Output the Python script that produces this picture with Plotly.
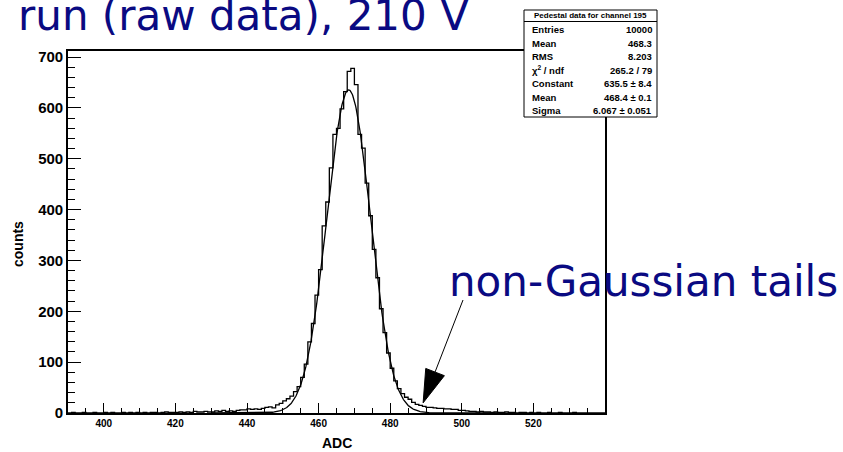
import numpy as np
import plotly.graph_objects as go

# ADC pedestal histogram, channel 195: 1-count-wide bins from 390 to 540
bin_lo = 390
bin_hi = 540
counts = [
    # 390-399
    0, 1, 0, 0, 1, 0, 0, 1, 0, 0,
    # 400-409
    1, 0, 1, 0, 0, 1, 0, 1, 0, 1,
    # 410-419
    0, 1, 0, 1, 1, 0, 1, 2, 1, 1,
    # 420-429
    1, 2, 1, 2, 1, 3, 2, 2, 3, 2,
    # 430-439
    2, 4, 3, 5, 3, 4, 3, 5, 6, 6,
    # 440-449
    8, 7, 8, 7, 9, 11, 12, 10, 16, 19,
    # 450-459
    24, 28, 33, 42, 52, 70, 96, 140, 176, 232,
    # 460-469
    282, 368, 415, 482, 548, 560, 598, 632, 672, 678,
    # 470-479
    646, 548, 521, 452, 388, 322, 266, 205, 158, 118,
    # 480-489
    88, 63, 48, 38, 31, 27, 21, 17, 15, 13,
    # 490-499
    11, 11, 10, 9, 9, 8, 8, 7, 7, 5,
    # 500-509
    5, 4, 3, 3, 2, 3, 2, 2, 1, 2,
    # 510-519
    1, 1, 2, 1, 1, 0, 1, 1, 0, 1,
    # 520-529
    0, 1, 0, 0, 1, 0, 0, 1, 0, 0,
    # 530-539
    0, 1, 0, 0, 0, 0, 0, 0, 0, 0,
]

# Gaussian fit parameters
fit_constant = 635.5
fit_mean = 468.4
fit_sigma = 6.067

stats_title = "Pedestal data for channel 195"
stats_labels = ["Entries", "Mean", "RMS", "\u03c7<sup>2</sup> / ndf", "Constant", "Mean", "Sigma"]
stats_values = ["10000", "468.3", "8.203", "265.2 / 79", "635.5 \u00b1 8.4", "468.4 \u00b1 0.1", "6.067 \u00b1 0.051"]

x_ticks = [400, 420, 440, 460, 480, 500, 520]
y_ticks = [0, 100, 200, 300, 400, 500, 600, 700]
y_top = 712

# ---------------------------------------------------------------- geometry
FIG_W, FIG_H = 843, 452
L, R, T, B = 68, 605, 51, 413
W, H = R - L, B - T


def paper_x(px):
    return (px - L) / W


def paper_y(py):
    return (B - py) / H


sx = W / (bin_hi - bin_lo)
sy = H / y_top


def data_to_px(xd, yd):
    return L + (xd - bin_lo) * sx, B - yd * sy


def px_to_data(px, py):
    return bin_lo + (px - L) / sx, (B - py) / sy


NAVY = "#0a0a82"
AXIS_FONT = "Liberation Sans, Arial, Helvetica, sans-serif"
BIG_FONT = "DejaVu Sans, sans-serif"

fig = go.Figure()

# histogram outline as a step line over the bin edges
edges = np.arange(bin_lo, bin_hi + 1)
step_y = list(counts) + [counts[-1]]
fig.add_trace(go.Scatter(
    x=edges, y=step_y, mode="lines", line_shape="hv",
    line=dict(color="black", width=1.3), hoverinfo="skip", showlegend=False,
))

# fitted Gaussian
gx = np.linspace(430, 510, 600)
gy = fit_constant * np.exp(-0.5 * ((gx - fit_mean) / fit_sigma) ** 2)
fig.add_trace(go.Scatter(
    x=gx, y=gy, mode="lines", line=dict(color="black", width=1.3),
    hoverinfo="skip", showlegend=False,
))

# ---------------------------------------------------------------- axes
fig.update_xaxes(
    range=[bin_lo, bin_hi], tickvals=x_ticks, ticks="inside", ticklen=10,
    tickwidth=1, tickcolor="black",
    minor=dict(dtick=5, tick0=400, ticks="inside", ticklen=5, tickcolor="black", tickwidth=1),
    showline=True, mirror=True, linecolor="black", linewidth=1.6,
    showgrid=False, zeroline=False,
    tickfont=dict(family=AXIS_FONT, size=10, color="black", weight="bold"),
)
fig.update_yaxes(
    range=[0, y_top], tickvals=y_ticks, ticks="inside", ticklen=13,
    tickwidth=1, tickcolor="black",
    minor=dict(dtick=20, tick0=0, ticks="inside", ticklen=7, tickcolor="black", tickwidth=1),
    showline=True, mirror=True, linecolor="black", linewidth=1.6,
    showgrid=False, zeroline=False,
    tickfont=dict(family=AXIS_FONT, size=15, color="black", weight="bold"),
)

annotations = []
shapes = []

# axis titles
annotations.append(dict(
    text="ADC", xref="paper", yref="paper", x=0.5, y=paper_y(443),
    xanchor="center", yanchor="middle", showarrow=False,
    font=dict(family=AXIS_FONT, size=14, color="black", weight="bold"),
))
annotations.append(dict(
    text="counts", xref="paper", yref="paper", x=paper_x(18), y=paper_y(244),
    xanchor="center", yanchor="middle", showarrow=False, textangle=-90,
    font=dict(family=AXIS_FONT, size=14, color="black", weight="bold"),
))

# slide captions
annotations.append(dict(
    text="run (raw data), 210 V", xref="paper", yref="paper",
    x=paper_x(16), y=paper_y(16), xanchor="left", yanchor="middle",
    showarrow=False, font=dict(family=BIG_FONT, size=42, color=NAVY),
))
annotations.append(dict(
    text="non-Gaussian tails", xref="paper", yref="paper",
    x=paper_x(447), y=paper_y(281), xanchor="left", yanchor="middle",
    showarrow=False, font=dict(family=BIG_FONT, size=42, color=NAVY),
))

# arrow pointing at the right-hand tail
tip = (489.2, 20.0)
tail = px_to_data(463, 300)
tpx, tpy = data_to_px(*tip)
lpx, lpy = data_to_px(*tail)
dx, dy = lpx - tpx, lpy - tpy
norm = np.hypot(dx, dy)
ux, uy = dx / norm, dy / norm
head_len, head_half = 33, 10
bx, by = tpx + ux * head_len, tpy + uy * head_len
c1 = px_to_data(bx - uy * head_half, by + ux * head_half)
c2 = px_to_data(bx + uy * head_half, by - ux * head_half)
base = px_to_data(bx, by)
shapes.append(dict(
    type="line", xref="x", yref="y", x0=tail[0], y0=tail[1], x1=base[0], y1=base[1],
    line=dict(color="black", width=1), layer="above",
))
shapes.append(dict(
    type="path", xref="x", yref="y",
    path=f"M {tip[0]},{tip[1]} L {c1[0]},{c1[1]} L {c2[0]},{c2[1]} Z",
    fillcolor="black", line=dict(color="black", width=1), layer="above",
))

# statistics box
bx0, bx1, by0, by1 = 524, 657, 10, 117
shapes.append(dict(
    type="rect", xref="paper", yref="paper",
    x0=paper_x(bx0), x1=paper_x(bx1), y0=paper_y(by1), y1=paper_y(by0),
    fillcolor="white", line=dict(color="black", width=1), layer="above",
))
shapes.append(dict(
    type="line", xref="paper", yref="paper",
    x0=paper_x(bx0), x1=paper_x(bx1), y0=paper_y(21.5), y1=paper_y(21.5),
    line=dict(color="black", width=1), layer="above",
))
annotations.append(dict(
    text=stats_title, xref="paper", yref="paper",
    x=paper_x((bx0 + bx1) / 2), y=paper_y(15.5), xanchor="center", yanchor="middle",
    showarrow=False, font=dict(family=AXIS_FONT, size=8, color="black", weight="bold"),
))
row_y = [30, 43, 56.5, 70, 83.5, 97, 110.5]
for lab, val, ry in zip(stats_labels, stats_values, row_y):
    annotations.append(dict(
        text=lab, xref="paper", yref="paper", x=paper_x(530), y=paper_y(ry),
        xanchor="left", yanchor="middle", showarrow=False,
        font=dict(family=AXIS_FONT, size=9.5, color="black", weight="bold"),
    ))
    annotations.append(dict(
        text=val, xref="paper", yref="paper", x=paper_x(654), y=paper_y(ry),
        xanchor="right", yanchor="middle", showarrow=False,
        font=dict(family=AXIS_FONT, size=9.5, color="black", weight="bold"),
    ))

fig.update_layout(
    width=FIG_W, height=FIG_H, autosize=False,
    margin=dict(l=L, r=FIG_W - R, t=T, b=FIG_H - B, pad=0),
    paper_bgcolor="white", plot_bgcolor="white",
    annotations=annotations, shapes=shapes, showlegend=False,
)

fig.write_html("out.html")
